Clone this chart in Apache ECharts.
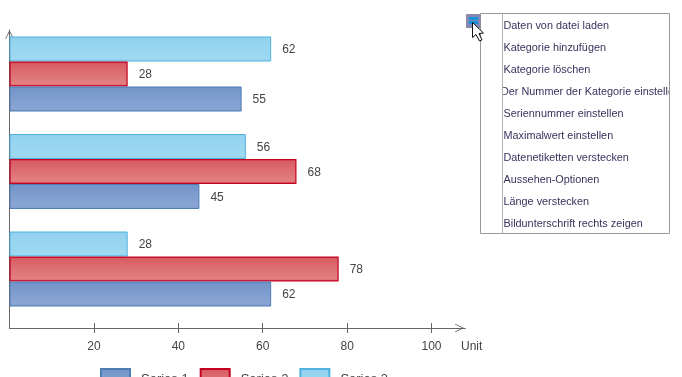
<!DOCTYPE html>
<html>
<head>
<meta charset="utf-8">
<style>
html, body { margin: 0; padding: 0; background: #fff; overflow: hidden; }
#chart { width: 682px; height: 377px; }
</style>
<script src="https://cdn.jsdelivr.net/npm/echarts@6/dist/echarts.min.js"></script>
</head>
<body>
<div id="chart"></div>
<script>
let categories = ["Category 1", "Category 2", "Category 3"];
let seriesNames = ["Series 1", "Series 2", "Series 3"];
let series1 = [62, 45, 55];
let series2 = [78, 68, 28];
let series3 = [28, 56, 62];
let tickValues = [20, 40, 60, 80, 100];
let unitLabel = "Unit";
let menuItems = [
  "Daten von datei laden",
  "Kategorie hinzufügen",
  "Kategorie löschen",
  "Der Nummer der Kategorie einstellen",
  "Seriennummer einstellen",
  "Maximalwert einstellen",
  "Datenetiketten verstecken",
  "Aussehen-Optionen",
  "Länge verstecken",
  "Bildunterschrift rechts zeigen"
];

let font = "Liberation Sans";
let axisColor = "#666";
let chevron = "path://M0 10L5 0L10 10L9.1 10.4L5 2.2L0.9 10.4Z";

function grad(c0, c1, c2, c3) {
  return new echarts.graphic.LinearGradient(0, 0, 0, 1, [
    { offset: 0, color: c0 },
    { offset: 0.1, color: c1 },
    { offset: 0.88, color: c2 },
    { offset: 1, color: c3 }
  ]);
}

function barSeries(name, data, fill, border, borderWidth) {
  return {
    name: name,
    type: "bar",
    xAxisIndex: 2,
    yAxisIndex: 1,
    data: data,
    barWidth: 25,
    barGap: 0,
    itemStyle: { color: fill, borderColor: border, borderWidth: borderWidth },
    label: {
      show: true,
      position: "right",
      distance: 11,
      offset: [0, 1],
      color: "#444",
      fontFamily: font,
      fontSize: 12
    }
  };
}

// menu on the right, drawn with graphic elements
function menuGraphic() {
  let els = [];
  els.push({
    type: "rect", z: 10,
    shape: { x: 480.5, y: 13.5, width: 189, height: 220 },
    style: { fill: "#fff" }
  });
  menuItems.forEach((item, i) => {
    els.push({
      type: "text", z: 11,
      x: i == 3 ? 501 : 503.5,
      y: 25.5 + i * 22,
      style: {
        text: item,
        fill: "#37335c",
        font: "10.85px " + font,
        verticalAlign: "middle"
      }
    });
  });
  // white strips clip the long entry on both sides
  els.push({
    type: "rect", z: 12,
    shape: { x: 482, y: 15, width: 21, height: 217 },
    style: { fill: "#fff" }
  });
  els.push({
    type: "rect", z: 12,
    shape: { x: 669.5, y: 13, width: 12.5, height: 221 },
    style: { fill: "#fff" }
  });
  els.push({
    type: "rect", z: 12,
    shape: { x: 480.5, y: 13.5, width: 189, height: 220 },
    style: { fill: "none", stroke: "#999", lineWidth: 1 }
  });
  els.push({
    type: "line", z: 12,
    shape: { x1: 502.5, y1: 14, x2: 502.5, y2: 233 },
    style: { stroke: "#b4b4b4", lineWidth: 1 }
  });
  els.push({
    type: "rect", z: 13,
    shape: { x: 466.5, y: 14.5, width: 14, height: 13 },
    style: { fill: "#8488b8", stroke: "#8c8c9c", lineWidth: 1 }
  });
  els.push({ type: "rect", z: 14, shape: { x: 469, y: 17, width: 9, height: 3 }, style: { fill: "#1890d8" } });
  els.push({ type: "rect", z: 14, shape: { x: 469, y: 21, width: 9, height: 3 }, style: { fill: "#1890d8" } });
  els.push({
    type: "polygon", z: 15,
    shape: { points: [[472.5, 22.5], [472.5, 37.5], [476, 34.5], [479.5, 41], [482, 40], [479, 33.5], [483.5, 33]] },
    style: { fill: "#fff", stroke: "#111", lineWidth: 1 }
  });
  els.push({
    type: "text", z: 5,
    x: 461,
    y: 346.5,
    style: { text: unitLabel, fill: "#444", font: "12px " + font, verticalAlign: "middle" }
  });
  return els;
}

let chart = echarts.init(document.querySelector("#chart"), null, { renderer: "canvas" });

let option = {
  backgroundColor: "#fff",
  animation: false,
  grid: [
    { left: 9.5, top: 30, width: 455.8, height: 298, containLabel: false },
    { left: 9.5, top: 25.25, width: 455.8, height: 292.5, containLabel: false }
  ],
  legend: {
    left: 100,
    top: 368,
    padding: 0,
    itemWidth: 29,
    itemHeight: 20,
    itemGap: 11,
    icon: "rect",
    textStyle: { fontFamily: font, fontSize: 13, color: "#444", padding: [0, 0, 0, 6] },
    data: seriesNames
  },
  xAxis: [
    {
      gridIndex: 0,
      type: "value",
      min: 0,
      max: 108,
      splitLine: { show: false },
      axisLine: {
        show: true,
        lineStyle: { color: axisColor, width: 1 },
        symbol: ["none", chevron],
        symbolSize: [9, 9],
        symbolOffset: [0, -5.8]
      },
      axisTick: { show: true, length: 5, lineStyle: { color: axisColor }, customValues: tickValues },
      axisLabel: { color: "#444", fontFamily: font, fontSize: 12, margin: 13, customValues: tickValues }
    },
    {
      gridIndex: 0,
      type: "value",
      position: "bottom",
      min: 0,
      max: 108,
      splitLine: { show: false },
      axisLine: { show: false },
      axisLabel: { show: false },
      axisTick: { show: true, inside: true, length: 5, lineStyle: { color: axisColor }, customValues: tickValues }
    },
    { gridIndex: 1, type: "value", min: 0, max: 108, show: false }
  ],
  yAxis: [
    {
      gridIndex: 0,
      type: "value",
      min: 0,
      max: 1,
      splitLine: { show: false },
      axisTick: { show: false },
      axisLabel: { show: false },
      axisLine: {
        show: true,
        lineStyle: { color: axisColor, width: 1 },
        symbol: ["none", chevron],
        symbolSize: [9, 9],
        symbolOffset: [0, -4.5]
      }
    },
    { gridIndex: 1, type: "category", data: categories, show: false }
  ],
  series: [
    barSeries(seriesNames[2], series3, grad("#90d0ee", "#93d2ef", "#9ed8f1", "#93d2ef"), "#4fb2de", 1),
    barSeries(seriesNames[1], series2, grad("#d2505a", "#d85e64", "#e28080", "#d6596a"), "#c40020", 1.2),
    barSeries(seriesNames[0], series1, grad("#6f8fc5", "#7596ca", "#8aa5d3", "#7a9bcf"), "#4f7db5", 1)
  ],
  graphic: { elements: menuGraphic() }
};

chart.setOption(option);
</script>
</body>
</html>
